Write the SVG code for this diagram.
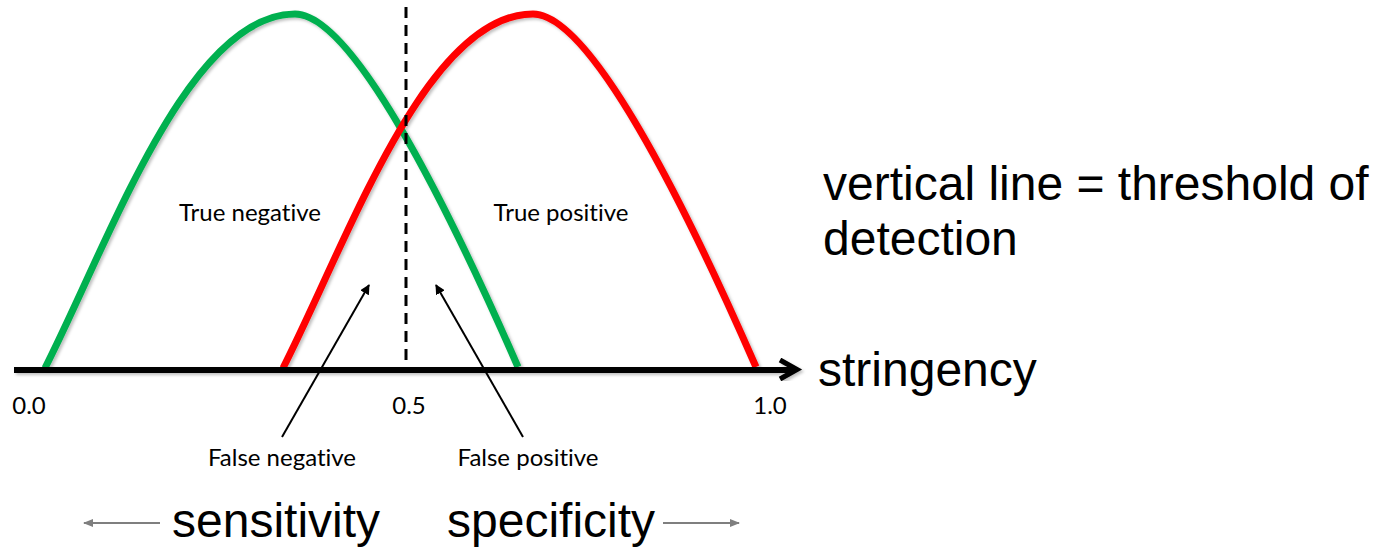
<svg xmlns="http://www.w3.org/2000/svg" width="1385" height="548" viewBox="0 0 1385 548">
  <style>
    .curve { fill: none; stroke-width: 7; stroke-linecap: butt; }
    .small { font-family: Lato, "Open Sans", sans-serif; font-size: 24px; fill: #000; font-variant-ligatures: none; font-feature-settings: "liga" 0, "clig" 0; }
    .big { font-family: "Liberation Sans", Arial, sans-serif; font-size: 48px; fill: #000; }
    .ptr { stroke: #000; stroke-width: 2; fill: none; }
    .dir { stroke: #7f7f7f; stroke-width: 2; fill: none; }
  </style>
  <defs>
    <filter id="sh" x="-10%" y="-10%" width="120%" height="120%">
      <feDropShadow dx="2" dy="2" stdDeviation="1.5" flood-color="#000" flood-opacity="0.25"/>
    </filter>
    <marker id="ah" viewBox="0 0 10 10" refX="9" refY="5" markerWidth="5" markerHeight="5" orient="auto" markerUnits="strokeWidth">
      <path d="M0,0 L10,5 L0,10 z" fill="#000"/>
    </marker>
    <marker id="ag" viewBox="0 0 10 10" refX="9" refY="5" markerWidth="5" markerHeight="5" orient="auto" markerUnits="strokeWidth">
      <path d="M0,1 L10,5 L0,9 z" fill="#7f7f7f"/>
    </marker>
  </defs>
  <rect width="1385" height="548" fill="#fff"/>

  <g id="curves" filter="url(#sh)">
    <path id="green" class="curve" stroke="#00B050" d="M45,368 C110,240 188,14 295,14 C352,14 445,200 518,367"/>
    <path id="red" class="curve" stroke="#FF0000" d="M283,368 C348,240 426,14 533,14 C590,14 683,200 756,367"/>
  </g>

  <g id="axis" filter="url(#sh)">
    <line x1="14" y1="370" x2="795" y2="370" stroke="#000" stroke-width="6"/>
    <polyline points="780,360 797,369.5 780,379" fill="none" stroke="#000" stroke-width="5" stroke-linejoin="miter"/>
  </g>

  <g id="threshold">
    <line x1="406" y1="7" x2="406" y2="368" stroke="#000" stroke-width="3" stroke-dasharray="11,7"/>
  </g>

  <g id="connectors">
    <line class="ptr" x1="282" y1="437" x2="369" y2="285" marker-end="url(#ah)"/>
    <line class="ptr" x1="523" y1="437" x2="436" y2="285" marker-end="url(#ah)"/>
    <line class="dir" x1="160" y1="523" x2="84" y2="523" marker-end="url(#ag)"/>
    <line class="dir" x1="663" y1="523" x2="739" y2="523" marker-end="url(#ag)"/>
  </g>

  <g id="labels">
    <text id="true-negative" class="small" x="250" y="221" text-anchor="middle">True negative</text>
    <text id="true-positive" class="small" x="561" y="221" text-anchor="middle">True positive</text>
    <text id="false-negative" class="small" x="282" y="466" text-anchor="middle">False negative</text>
    <text id="false-positive" class="small" x="528" y="466" text-anchor="middle">False positive</text>
    <text id="t00" class="small" x="29" y="414" text-anchor="middle">0.0</text>
    <text id="t05" class="small" x="409" y="414" text-anchor="middle">0.5</text>
    <text id="t10" class="small" x="770" y="414" text-anchor="middle">1.0</text>
  </g>

  <g id="notes">
    <text id="stringency" class="big" x="818" y="386">stringency</text>
    <text id="vline" class="big" x="823" y="200">vertical line = threshold of</text>
    <text id="detection" class="big" x="823" y="255">detection</text>
    <text id="sensitivity" class="big" x="172" y="537">sensitivity</text>
    <text id="specificity" class="big" x="447" y="537">specificity</text>
  </g>
</svg>
